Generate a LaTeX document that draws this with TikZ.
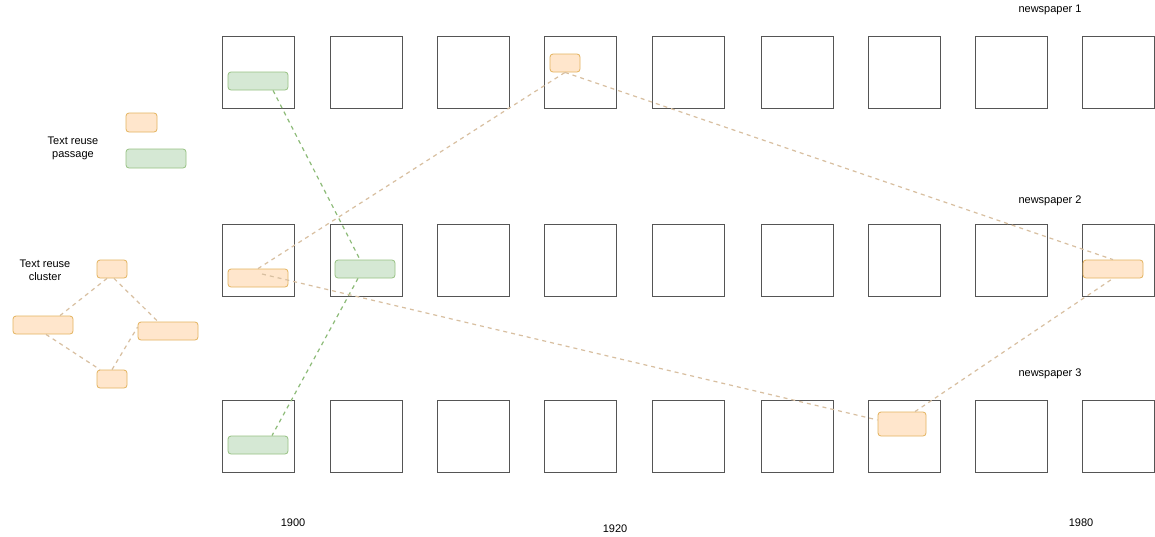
\documentclass[tikz,border=0pt]{standalone}
\usepackage{fontspec}
\setmainfont{Liberation Sans}
\usetikzlibrary{calc}
\definecolor{ofill}{HTML}{FFE6CC}
\definecolor{odraw}{HTML}{E3B35F}
\definecolor{gfill}{HTML}{D5E8D4}
\definecolor{gdraw}{HTML}{97C283}
\definecolor{olink}{HTML}{D8BFA0}
\definecolor{glink}{HTML}{8DBB78}
\definecolor{boxc}{HTML}{555555}
\tikzset{
  pagebox/.style={draw=boxc, line width=0.9pt, minimum width=72pt, minimum height=72pt, inner sep=0pt},
  opass/.style={draw=odraw, fill=ofill, rounded corners=3pt, line width=0.8pt, inner sep=0pt},
  gpass/.style={draw=gdraw, fill=gfill, rounded corners=3pt, line width=0.8pt, inner sep=0pt},
  olinkst/.style={draw=olink, line width=1.2pt, dash pattern=on 4pt off 4pt},
  glinkst/.style={draw=glink, line width=1.2pt, dash pattern=on 4pt off 4pt},
  lbl/.style={font=\fontsize{11pt}{13pt}\selectfont, align=center, inner sep=0pt}
}
\begin{document}
\begin{tikzpicture}[x=1pt,y=-1pt]
\useasboundingbox[fill=white] (0,0) rectangle (1155,536);
% page boxes
\foreach \c/\x in {1/258,2/366,3/473,4/580,5/688,6/797,7/904,8/1011,9/1118}{
  \node[pagebox] (b1\c) at (\x,72) {};
  \node[pagebox] (b2\c) at (\x,260) {};
  \node[pagebox] (b3\c) at (\x,436) {};
}
% passages
\node[gpass, minimum width=60pt, minimum height=18pt] (g11) at (258,81) {};
\node[opass, minimum width=30pt, minimum height=18pt] (o14) at (565,63) {};
\node[opass, minimum width=60pt, minimum height=18pt] (o21) at (258,278) {};
\node[gpass, minimum width=60pt, minimum height=18pt] (g22) at (365,269) {};
\node[opass, minimum width=60pt, minimum height=18pt] (o29) at (1113,269) {};
\node[gpass, minimum width=60pt, minimum height=18pt] (g31) at (258,445) {};
\node[opass, minimum width=48pt, minimum height=24pt] (o37) at (902,424) {};
% connectors
\draw[glinkst] ($(g11.south)+(15,0)$) -- ($(g22.north)+(-5,0)$);
\draw[glinkst] ($(g22.south)+(-7,0)$) -- ($(g31.north)+(14,0)$);
\draw[olinkst] (o21.north) -- (o14.south);
\draw[olinkst] (o14.south) -- (o29.north);
\draw[olinkst] ($(o21.center)+(4,-4)$) -- ($(o37.west)+(0,-4)$);
\draw[olinkst] ($(o37.north)+(13,0)$) -- (o29.south);
% labels
\node[lbl] (n1) at (1050,10) {newspaper 1};
\node[lbl] (n2) at (1050,201) {newspaper 2};
\node[lbl] (n3) at (1050,374) {newspaper 3};
\node[lbl] (y1) at (293,523) {1900};
\node[lbl] (y2) at (615,529) {1920};
\node[lbl] (y3) at (1081,523) {1980};
% legend
\node[opass, minimum width=31pt, minimum height=19pt] (lo) at (141.5,122.5) {};
\node[gpass, minimum width=60pt, minimum height=19pt] (lg) at (156,158.5) {};
\node[lbl] (lt1) at (73,148) {Text reuse\\passage};
\node[lbl] (lt2) at (45,270) {Text reuse\\cluster};
\node[opass, minimum width=30pt, minimum height=18pt] (ct) at (112,269) {};
\node[opass, minimum width=60pt, minimum height=18pt] (cl) at (43,325) {};
\node[opass, minimum width=60pt, minimum height=18pt] (cr) at (168,331) {};
\node[opass, minimum width=30pt, minimum height=18pt] (cb) at (112,379) {};
\draw[olinkst] ($(ct.south)+(-5,0)$) -- ($(cl.north)+(17,0)$);
\draw[olinkst] ($(ct.south)+(2,0)$) -- ($(cr.north)+(-10,0)$);
\draw[olinkst] ($(cl.south)+(3,0)$) -- ($(cb.north)+(-12,0)$);
\draw[olinkst] (cb.north) -- ($(cr.west)+(0,-4)$);
\end{tikzpicture}
\end{document}
